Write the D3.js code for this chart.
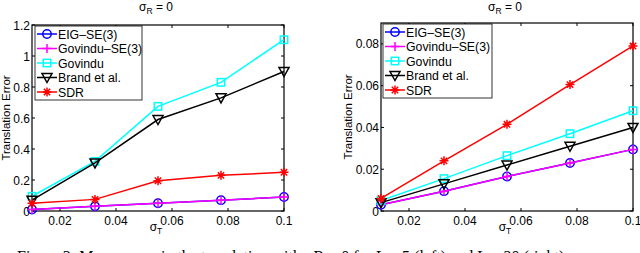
<!DOCTYPE html>
<html lang="en">
<head>
<meta charset="UTF-8">
<title>Translation error vs sigma_T</title>
<style>
  body, html { margin: 0; padding: 0; background: #fff; }
  svg text { font-family: "Liberation Sans", Arial, sans-serif; }
</style>
</head>
<body>
<svg id="svg" width="640" height="253"></svg>
<script src="https://d3js.org/d3.v7.min.js"></script>
<script>
// sigma_T values (x)
const sigmaT = [0.01, 0.0325, 0.055, 0.0775, 0.1];
const seriesNames = ['EIG-SE(3)', 'Govindu-SE(3)', 'Govindu', 'Brand et al.', 'SDR'];

// left panel
const leftEig    = [0.01, 0.03, 0.05, 0.07, 0.09];
const leftGovSE3 = [0.01, 0.03, 0.05, 0.07, 0.09];
const leftGov    = [0.095, 0.32, 0.675, 0.83, 1.105];
const leftBrand  = [0.07, 0.31, 0.59, 0.73, 0.90];
const leftSdr    = [0.05, 0.075, 0.195, 0.23, 0.25];
const leftYTicks = ['0', '0.2', '0.4', '0.6', '0.8', '1', '1.2'];

// right panel
const rightEig    = [0.003, 0.0095, 0.0165, 0.023, 0.0295];
const rightGovSE3 = [0.003, 0.0095, 0.0165, 0.023, 0.0295];
const rightGov    = [0.005, 0.0155, 0.0265, 0.037, 0.048];
const rightBrand  = [0.004, 0.013, 0.022, 0.031, 0.040];
const rightSdr    = [0.006, 0.024, 0.0415, 0.0605, 0.079];
const rightYTicks = ['0', '0.02', '0.04', '0.06', '0.08'];

const xTicks = ['0.02', '0.04', '0.06', '0.08', '0.1'];

const colors = ['#0000ff', '#ff00ff', '#00ffff', '#000000', '#ff0000'];
const markers = ['circle', 'plus', 'square', 'tri', 'star'];

const svg = d3.select('#svg');

function drawMarker(g, type, x, y, color) {
  if (type === 'circle') {
    g.append('circle').attr('cx', x).attr('cy', y).attr('r', 4.2)
      .attr('fill', 'none').attr('stroke', color).attr('stroke-width', 1.5);
  } else if (type === 'plus') {
    g.append('path').attr('d', `M${x-4.5},${y}H${x+4.5}M${x},${y-4.5}V${y+4.5}`)
      .attr('stroke', color).attr('stroke-width', 1.5);
  } else if (type === 'square') {
    g.append('rect').attr('x', x - 3.7).attr('y', y - 3.7).attr('width', 7.4).attr('height', 7.4)
      .attr('fill', 'none').attr('stroke', color).attr('stroke-width', 1.5);
  } else if (type === 'tri') {
    g.append('path').attr('d', `M${x-5},${y-4}L${x+5},${y-4}L${x},${y+5}Z`)
      .attr('fill', 'none').attr('stroke', color).attr('stroke-width', 1.5);
  } else if (type === 'star') {
    const r = 4.5, d = r * 0.707;
    g.append('path').attr('d', `M${x-r},${y}H${x+r}M${x},${y-r}V${y+r}M${x-d},${y-d}L${x+d},${y+d}M${x-d},${y+d}L${x+d},${y-d}`)
      .attr('stroke', color).attr('stroke-width', 1.5);
  }
}

function drawPanel(cfg) {
  const x = d3.scaleLinear().domain([0.01, 0.1]).range([cfg.left, cfg.right]);
  const y = d3.scaleLinear().domain([0, cfg.yMax]).range([cfg.bottom, cfg.top]);
  const g = svg.append('g');

  // box
  g.append('rect').attr('x', cfg.left).attr('y', cfg.top)
    .attr('width', cfg.right - cfg.left).attr('height', cfg.bottom - cfg.top)
    .attr('fill', 'none').attr('stroke', '#000').attr('stroke-width', 1.2);

  // ticks inside, on all sides
  const tl = 3;
  xTicks.forEach(s => {
    const t = +s;
    g.append('path').attr('d', `M${x(t)},${cfg.bottom}v${-tl}M${x(t)},${cfg.top}v${tl}`)
      .attr('stroke', '#000');
    g.append('text').attr('x', x(t)).attr('y', cfg.bottom + 14)
      .attr('text-anchor', 'middle').attr('font-size', 12).text(s);
  });
  cfg.yTicks.forEach(s => {
    const t = +s;
    g.append('path').attr('d', `M${cfg.left},${y(t)}h${tl}M${cfg.right},${y(t)}h${-tl}`)
      .attr('stroke', '#000');
    g.append('text').attr('x', cfg.left - 2).attr('y', y(t) + 4.5)
      .attr('text-anchor', 'end').attr('font-size', 12).text(s);
  });

  // series
  const line = d3.line().x((d, i) => x(sigmaT[i])).y(d => y(d));
  cfg.series.forEach((vals, k) => {
    g.append('path').attr('d', line(vals)).attr('fill', 'none')
      .attr('stroke', colors[k]).attr('stroke-width', 1.5);
    vals.forEach((v, i) => drawMarker(g, markers[k], x(sigmaT[i]), y(v), colors[k]));
  });

  // legend
  const lg = g.append('g');
  lg.append('rect').attr('x', cfg.legX).attr('y', cfg.top + 1)
    .attr('width', cfg.legW).attr('height', 74)
    .attr('fill', '#fff').attr('stroke', '#000').attr('stroke-width', 0.8);
  seriesNames.forEach((name, k) => {
    const ry = cfg.top + 9 + k * 14.5;
    lg.append('path').attr('d', `M${cfg.legX + 2},${ry}h20`)
      .attr('stroke', colors[k]).attr('stroke-width', 1.5);
    drawMarker(lg, markers[k], cfg.legX + 12, ry, colors[k]);
    lg.append('text').attr('x', cfg.legX + 23).attr('y', ry + 4.5)
      .attr('font-size', 12.3)
      .text(name.replace(/-/g, '\u2013'));
  });

  // title
  const cx = (cfg.left + cfg.right) / 2;
  const title = g.append('text').attr('x', cx - 2).attr('y', 11)
    .attr('text-anchor', 'middle').attr('font-size', 12);
  title.append('tspan').text('\u03c3');
  title.append('tspan').attr('dy', 3).attr('font-size', 8.5).text('R');
  title.append('tspan').attr('dy', -3).text(' = 0');

  // x label
  const xl = g.append('text').attr('x', cx - 2).attr('y', 231)
    .attr('text-anchor', 'middle').attr('font-size', 12);
  xl.append('tspan').text('\u03c3');
  xl.append('tspan').attr('dy', 3).attr('font-size', 8.5).text('T');

  // y label
  g.append('text')
    .attr('transform', `translate(${cfg.yLabelX},${(cfg.top + cfg.bottom) / 2}) rotate(-90)`)
    .attr('text-anchor', 'middle').attr('font-size', 11.5).text('Translation Error');
}

drawPanel({
  left: 32, right: 284, top: 25, bottom: 211, yMax: 1.2, yTicks: leftYTicks,
  series: [leftEig, leftGovSE3, leftGov, leftBrand, leftSdr],
  legX: 35, legW: 107, yLabelX: 10
});
drawPanel({
  left: 381, right: 633, top: 23, bottom: 211, yMax: 0.09, yTicks: rightYTicks,
  series: [rightEig, rightGovSE3, rightGov, rightBrand, rightSdr],
  legX: 383, legW: 109, yLabelX: 352
});

// caption (cut off at the bottom of the picture, as in the source)
svg.append('text').attr('x', 17).attr('y', 262)
  .style('font-family', '"Liberation Serif", "Times New Roman", serif')
  .attr('font-size', 16)
  .text('Figure 3: Mean errors in the translation with \u03c3R = 0 for L = 5 (left) and L = 20 (right).');
</script>
</body>
</html>
